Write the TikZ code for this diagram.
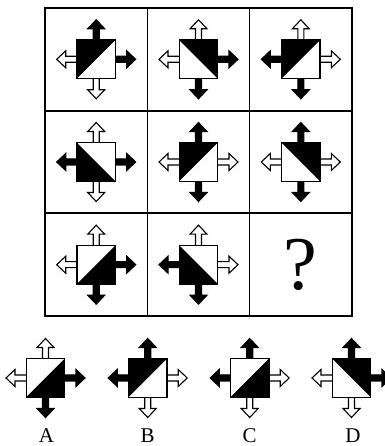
\documentclass[tikz,border=0pt]{standalone}
\usepackage{fontspec}
\setmainfont{Liberation Serif}
\newcommand\hs{19.3}
\tikzset{
  pics/arm/.style={code={
    \draw[line width=1.1pt, line join=miter, fill=#1]
      (-3,\hs) -- (-3,30.5) -- (-8.5,30.5) -- (0,39.5) -- (8.5,30.5) -- (3,30.5) -- (3,\hs);}},
  pics/halfUL/.style={code={\fill (-\hs,-\hs) -- (\hs,\hs) -- (-\hs,\hs) -- cycle;}},
  pics/halfLR/.style={code={\fill (-\hs,-\hs) -- (\hs,-\hs) -- (\hs,\hs) -- cycle;}},
  pics/halfUR/.style={code={\fill (-\hs,\hs) -- (\hs,\hs) -- (\hs,-\hs) -- cycle;}},
  pics/halfLL/.style={code={\fill (-\hs,\hs) -- (-\hs,-\hs) -- (\hs,-\hs) -- cycle;}}
}
% #1 centre, #2 half, #3 up, #4 right, #5 down, #6 left
\newcommand\blockfig[6]{%
  \begin{scope}[shift={(#1)}]
    \pic {arm=#3};
    \pic[rotate=-90] {arm=#4};
    \pic[rotate=180] {arm=#5};
    \pic[rotate=90] {arm=#6};
    \pic {#2};
    \draw[line width=1.3pt] (-\hs,-\hs) rectangle (\hs,\hs);
  \end{scope}}
\begin{document}
\begin{tikzpicture}[
  x=1pt, y=1pt,
  cell/.style={draw, line width=1.6pt, minimum size=102.33pt, inner sep=0pt,
    font=\fontsize{76}{76}\selectfont},
  optlabel/.style={font=\fontsize{21}{21}\selectfont, anchor=base}
]
\useasboundingbox (0,0) rectangle (384,446);
% grid
\node[cell] (c11) at (96.2,386.7) {};
\node[cell] (c12) at (198.5,386.7) {};
\node[cell] (c13) at (300.8,386.7) {};
\node[cell] (c21) at (96.2,284) {};
\node[cell] (c22) at (198.5,284) {};
\node[cell] (c23) at (300.8,284) {};
\node[cell] (c31) at (96.2,181.3) {};
\node[cell] (c32) at (198.5,181.3) {};
\node[cell] (c33) at (300.8,181.3) {?};
% row 1
\blockfig{c11}{halfUL}{black}{black}{white}{white}
\blockfig{c12}{halfUR}{white}{black}{black}{white}
\blockfig{c13}{halfUL}{white}{white}{black}{black}
% row 2
\blockfig{c21}{halfLL}{white}{black}{white}{black}
\blockfig{c22}{halfUL}{black}{white}{black}{white}
\blockfig{c23}{halfUR}{black}{white}{black}{white}
% row 3
\blockfig{c31}{halfLR}{white}{black}{black}{white}
\blockfig{c32}{halfLL}{white}{white}{black}{black}
% options
\coordinate (optA) at (45.5,68);
\coordinate (optB) at (147.7,68);
\coordinate (optC) at (249.7,68);
\coordinate (optD) at (351.5,68);
\blockfig{optA}{halfLR}{white}{black}{black}{white}
\blockfig{optB}{halfUL}{black}{white}{white}{black}
\blockfig{optC}{halfLR}{black}{white}{white}{black}
\blockfig{optD}{halfUR}{black}{black}{white}{white}
\node[optlabel] (labA) at (46.5,3.5) {A};
\node[optlabel] (labB) at (147.7,3.5) {B};
\node[optlabel] (labC) at (249.5,3.5) {C};
\node[optlabel] (labD) at (353,3.5) {D};
\end{tikzpicture}
\end{document}
